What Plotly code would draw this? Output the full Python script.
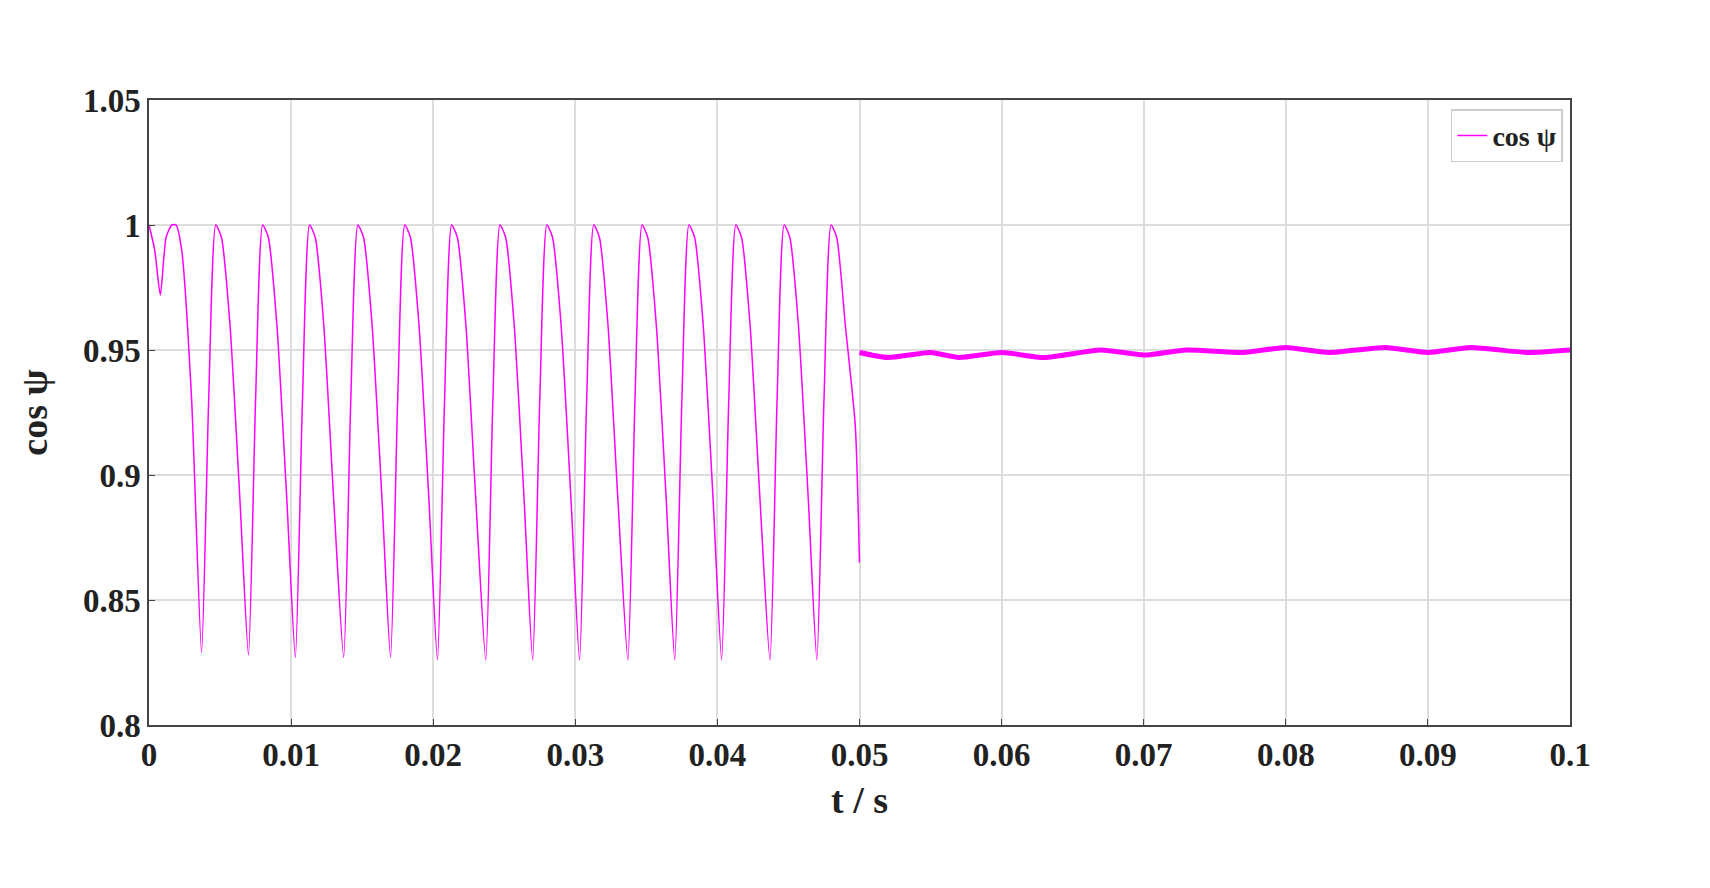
import plotly.graph_objects as go

# oscillating part
t_osc = [0.0, 0.0004, 0.0008, 0.0012, 0.0016, 0.0019, 0.0023, 0.0030, 0.0037, 0.0042, 0.0047,
         0.0051, 0.0057, 0.0064, 0.0070, 0.0075, 0.0080,
         0.0084, 0.0090, 0.0097, 0.0103, 0.0108, 0.0113,
         0.0117, 0.0123, 0.0130, 0.0137, 0.0142, 0.0147,
         0.0151, 0.0157, 0.0164, 0.0170, 0.0175, 0.0180,
         0.0184, 0.0190, 0.0197, 0.0203, 0.0208, 0.0213,
         0.0217, 0.0223, 0.0230, 0.0237, 0.0242, 0.0247,
         0.0251, 0.0257, 0.0264, 0.0270, 0.0275, 0.0280,
         0.0284, 0.0290, 0.0297, 0.0303, 0.0308, 0.0313,
         0.0317, 0.0323, 0.0330, 0.0337, 0.0342, 0.0347,
         0.0351, 0.0357, 0.0364, 0.0370, 0.0375, 0.0380,
         0.0384, 0.0390, 0.0397, 0.0403, 0.0408, 0.0413,
         0.0417, 0.0423, 0.0430, 0.0437, 0.0442, 0.0447,
         0.0451, 0.0457, 0.0464, 0.0470, 0.0475, 0.0480,
         0.0484, 0.0490, 0.0497, 0.0500]
v_osc = [1.0, 0.99, 0.972, 0.995, 1.0, 1.0, 0.99, 0.93, 0.829, 0.93, 1.0,
         0.995, 0.96, 0.89, 0.828, 0.93, 1.0,
         0.995, 0.96, 0.89, 0.827, 0.93, 1.0,
         0.995, 0.96, 0.89, 0.827, 0.93, 1.0,
         0.995, 0.96, 0.89, 0.827, 0.93, 1.0,
         0.995, 0.96, 0.89, 0.826, 0.93, 1.0,
         0.995, 0.96, 0.89, 0.826, 0.93, 1.0,
         0.995, 0.96, 0.89, 0.826, 0.93, 1.0,
         0.995, 0.96, 0.89, 0.826, 0.93, 1.0,
         0.995, 0.96, 0.89, 0.826, 0.93, 1.0,
         0.995, 0.96, 0.89, 0.826, 0.93, 1.0,
         0.995, 0.96, 0.89, 0.826, 0.93, 1.0,
         0.995, 0.96, 0.89, 0.826, 0.93, 1.0,
         0.995, 0.96, 0.89, 0.826, 0.93, 1.0,
         0.995, 0.96, 0.92, 0.865]

# steady part
t_st = [0.0500, 0.052, 0.055, 0.057, 0.060, 0.063, 0.067, 0.070, 0.073, 0.077,
        0.080, 0.083, 0.087, 0.090, 0.093, 0.097, 0.100]
v_st = [0.949, 0.947, 0.949, 0.947, 0.949, 0.947, 0.950, 0.948, 0.950, 0.949,
        0.951, 0.949, 0.951, 0.949, 0.951, 0.949, 0.950]

xticks = [0, 0.01, 0.02, 0.03, 0.04, 0.05, 0.06, 0.07, 0.08, 0.09, 0.1]
xlabels = ["0", "0.01", "0.02", "0.03", "0.04", "0.05", "0.06", "0.07", "0.08", "0.09", "0.1"]
yticks = [0.8, 0.85, 0.9, 0.95, 1.0, 1.05]
ylabels = ["0.8", "0.85", "0.9", "0.95", "1", "1.05"]

MAG = "#ff00ff"
fig = go.Figure()
fig.add_trace(go.Scatter(x=t_osc, y=v_osc, mode="lines", name="cos ψ",
                         line=dict(color=MAG, width=1.5, shape="spline", smoothing=0.6)))
fig.add_trace(go.Scatter(x=t_st, y=v_st, mode="lines", showlegend=False,
                         line=dict(color=MAG, width=5, shape="spline", smoothing=0.6)))

fig.update_layout(
    width=1710, height=888, plot_bgcolor="white", paper_bgcolor="white",
    margin=dict(l=141, r=148, t=92, b=171),
    font=dict(family="Liberation Serif", size=30, color="#222"),
    showlegend=True,
    legend=dict(x=0.995, y=0.985, xanchor="right", yanchor="top",
                bordercolor="#cccccc", borderwidth=1.5, bgcolor="white",
                font=dict(family="Liberation Serif", size=28, color="#222", weight="bold")),
)
fig.update_xaxes(range=[0, 0.1], tickvals=xticks, ticktext=xlabels,
                 showgrid=True, gridcolor="#dddddd", gridwidth=1.5,
                 showline=True, linecolor="#444", mirror=True, linewidth=1.5,
                 ticks="inside", ticklen=6, tickcolor="#444",
                 tickfont=dict(family="Liberation Serif", size=33, color="#222", weight="bold"),
                 title=dict(text="t / s", standoff=14,
                            font=dict(family="Liberation Serif", size=38, color="#222", weight="bold")),
                 zeroline=False)
fig.update_yaxes(range=[0.8, 1.05], tickvals=yticks, ticktext=ylabels,
                 showgrid=True, gridcolor="#dddddd", gridwidth=1.5,
                 showline=True, linecolor="#444", mirror=True, linewidth=1.5,
                 ticks="inside", ticklen=6, tickcolor="#444",
                 tickfont=dict(family="Liberation Serif", size=33, color="#222", weight="bold"),
                 title=dict(text="cos ψ", standoff=24,
                            font=dict(family="Liberation Serif", size=38, color="#222", weight="bold")),
                 zeroline=False)
fig.write_html("out.html")
